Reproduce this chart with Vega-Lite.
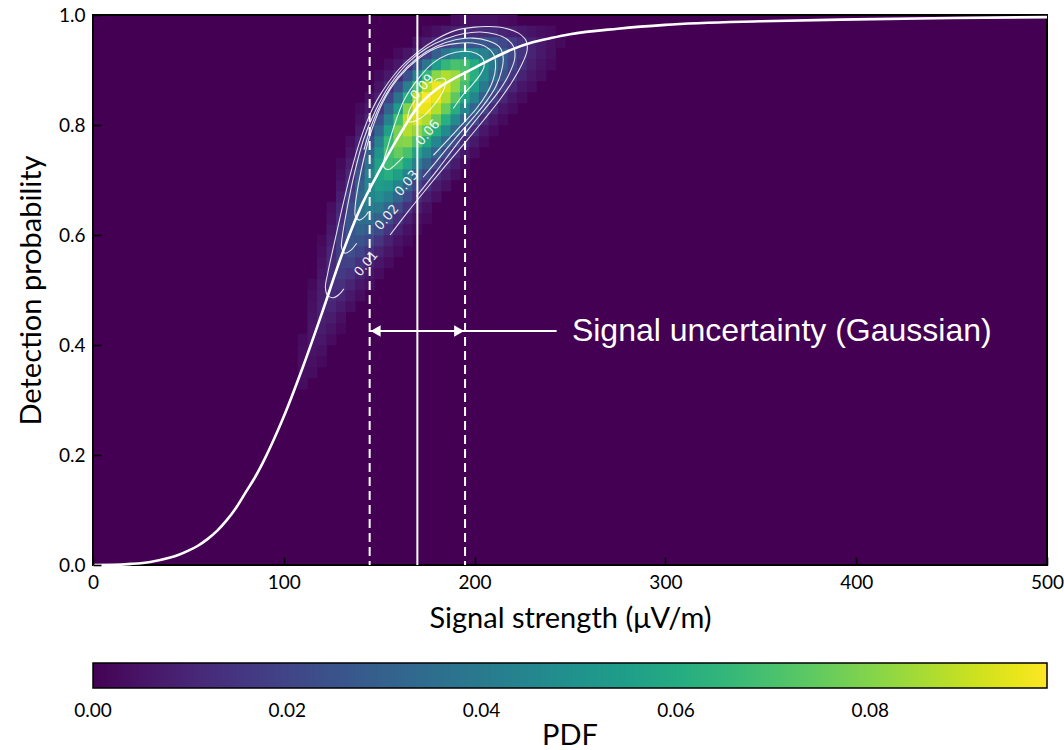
{
"$schema": "https://vega.github.io/schema/vega-lite/v6.json",
"width": 954, "height": 550,
"autosize": {"type": "none"},
"padding": {"left": 93, "top": 15, "right": 17, "bottom": 185},
"background": "white",
"config": {"view": {"stroke": "black", "strokeWidth": 2, "fill": "#440154"}, "font": "Lato"},
"datasets": {
"heat": [
{"x":110,"y":0.33,"p":0.00266},{"x":110,"y":0.35,"p":0.00312},{"x":110,"y":0.37,"p":0.00315},{"x":110,"y":0.39,"p":0.0029},{"x":110,"y":0.41,"p":0.00246},
{"x":115,"y":0.35,"p":0.00269},{"x":115,"y":0.37,"p":0.00389},{"x":115,"y":0.39,"p":0.00486},{"x":115,"y":0.41,"p":0.00523},{"x":115,"y":0.43,"p":0.00505},{"x":115,"y":0.45,"p":0.00454},{"x":115,"y":0.47,"p":0.0038},{"x":115,"y":0.49,"p":0.00296},{"x":115,"y":0.51,"p":0.00215},
{"x":120,"y":0.37,"p":0.00231},{"x":120,"y":0.39,"p":0.00387},{"x":120,"y":0.41,"p":0.00567},{"x":120,"y":0.43,"p":0.0073},{"x":120,"y":0.45,"p":0.0082},{"x":120,"y":0.47,"p":0.0082},{"x":120,"y":0.49,"p":0.00766},{"x":120,"y":0.51,"p":0.00672},{"x":120,"y":0.53,"p":0.00554},{"x":120,"y":0.55,"p":0.00428},{"x":120,"y":0.57,"p":0.00311},{"x":120,"y":0.59,"p":0.00213},
{"x":125,"y":0.41,"p":0.00286},{"x":125,"y":0.43,"p":0.00488},{"x":125,"y":0.45,"p":0.00741},{"x":125,"y":0.47,"p":0.00997},{"x":125,"y":0.49,"p":0.01192},{"x":125,"y":0.51,"p":0.01265},{"x":125,"y":0.53,"p":0.01228},{"x":125,"y":0.55,"p":0.01123},{"x":125,"y":0.57,"p":0.00968},{"x":125,"y":0.59,"p":0.00786},{"x":125,"y":0.61,"p":0.00601},{"x":125,"y":0.63,"p":0.00434},{"x":125,"y":0.65,"p":0.00295},
{"x":130,"y":0.43,"p":0.00206},{"x":130,"y":0.45,"p":0.00383},{"x":130,"y":0.47,"p":0.00647},{"x":130,"y":0.49,"p":0.00978},{"x":130,"y":0.51,"p":0.01337},{"x":130,"y":0.53,"p":0.01648},{"x":130,"y":0.55,"p":0.01828},{"x":130,"y":0.57,"p":0.01839},{"x":130,"y":0.59,"p":0.01732},{"x":130,"y":0.61,"p":0.01537},{"x":130,"y":0.63,"p":0.01285},{"x":130,"y":0.65,"p":0.01013},{"x":130,"y":0.67,"p":0.00754},{"x":130,"y":0.69,"p":0.00528},{"x":130,"y":0.71,"p":0.00348},{"x":130,"y":0.73,"p":0.00217},
{"x":135,"y":0.47,"p":0.00342},{"x":135,"y":0.49,"p":0.00598},{"x":135,"y":0.51,"p":0.00955},{"x":135,"y":0.53,"p":0.01396},{"x":135,"y":0.55,"p":0.01864},{"x":135,"y":0.57,"p":0.02279},{"x":135,"y":0.59,"p":0.02545},{"x":135,"y":0.61,"p":0.02605},{"x":135,"y":0.63,"p":0.02485},{"x":135,"y":0.65,"p":0.02229},{"x":135,"y":0.67,"p":0.01877},{"x":135,"y":0.69,"p":0.01485},{"x":135,"y":0.71,"p":0.01104},{"x":135,"y":0.73,"p":0.0077},{"x":135,"y":0.75,"p":0.00504},{"x":135,"y":0.77,"p":0.00311},
{"x":140,"y":0.49,"p":0.00297},{"x":140,"y":0.51,"p":0.00533},{"x":140,"y":0.53,"p":0.00886},{"x":140,"y":0.55,"p":0.01363},{"x":140,"y":0.57,"p":0.01931},{"x":140,"y":0.59,"p":0.02527},{"x":140,"y":0.61,"p":0.0306},{"x":140,"y":0.63,"p":0.03417},{"x":140,"y":0.65,"p":0.0353},{"x":140,"y":0.67,"p":0.03389},{"x":140,"y":0.69,"p":0.03043},{"x":140,"y":0.71,"p":0.02552},{"x":140,"y":0.73,"p":0.02002},{"x":140,"y":0.75,"p":0.01468},{"x":140,"y":0.77,"p":0.01006},{"x":140,"y":0.79,"p":0.00646},{"x":140,"y":0.81,"p":0.00385},{"x":140,"y":0.83,"p":0.00215},
{"x":145,"y":0.51,"p":0.00299},{"x":145,"y":0.53,"p":0.00543},{"x":145,"y":0.55,"p":0.00915},{"x":145,"y":0.57,"p":0.01435},{"x":145,"y":0.59,"p":0.02088},{"x":145,"y":0.61,"p":0.02829},{"x":145,"y":0.63,"p":0.0356},{"x":145,"y":0.65,"p":0.04163},{"x":145,"y":0.67,"p":0.04531},{"x":145,"y":0.69,"p":0.04577},{"x":145,"y":0.71,"p":0.04296},{"x":145,"y":0.73,"p":0.0374},{"x":145,"y":0.75,"p":0.03018},{"x":145,"y":0.77,"p":0.02263},{"x":145,"y":0.79,"p":0.01573},{"x":145,"y":0.81,"p":0.01012},{"x":145,"y":0.83,"p":0.00605},{"x":145,"y":0.85,"p":0.00336},
{"x":150,"y":0.53,"p":0.00288},{"x":150,"y":0.55,"p":0.00533},{"x":150,"y":0.57,"p":0.0091},{"x":150,"y":0.59,"p":0.01457},{"x":150,"y":0.61,"p":0.02177},{"x":150,"y":0.63,"p":0.03036},{"x":150,"y":0.65,"p":0.03951},{"x":150,"y":0.67,"p":0.04798},{"x":150,"y":0.69,"p":0.05432},{"x":150,"y":0.71,"p":0.05743},{"x":150,"y":0.73,"p":0.05645},{"x":150,"y":0.75,"p":0.05098},{"x":150,"y":0.77,"p":0.0424},{"x":150,"y":0.79,"p":0.03243},{"x":150,"y":0.81,"p":0.02281},{"x":150,"y":0.83,"p":0.01469},{"x":150,"y":0.85,"p":0.0087},{"x":150,"y":0.87,"p":0.00478},{"x":150,"y":0.89,"p":0.00242},
{"x":155,"y":0.55,"p":0.00277},{"x":155,"y":0.57,"p":0.00513},{"x":155,"y":0.59,"p":0.00887},{"x":155,"y":0.61,"p":0.01448},{"x":155,"y":0.63,"p":0.02204},{"x":155,"y":0.65,"p":0.03146},{"x":155,"y":0.67,"p":0.04203},{"x":155,"y":0.69,"p":0.05253},{"x":155,"y":0.71,"p":0.06154},{"x":155,"y":0.73,"p":0.0675},{"x":155,"y":0.75,"p":0.0693},{"x":155,"y":0.77,"p":0.06535},{"x":155,"y":0.79,"p":0.05586},{"x":155,"y":0.81,"p":0.04331},{"x":155,"y":0.83,"p":0.03049},{"x":155,"y":0.85,"p":0.01947},{"x":155,"y":0.87,"p":0.0113},{"x":155,"y":0.89,"p":0.00589},{"x":155,"y":0.91,"p":0.00281},
{"x":160,"y":0.57,"p":0.00248},{"x":160,"y":0.59,"p":0.00473},{"x":160,"y":0.61,"p":0.00833},{"x":160,"y":0.63,"p":0.01386},{"x":160,"y":0.65,"p":0.02155},{"x":160,"y":0.67,"p":0.03148},{"x":160,"y":0.69,"p":0.04309},{"x":160,"y":0.71,"p":0.05527},{"x":160,"y":0.73,"p":0.06656},{"x":160,"y":0.75,"p":0.07521},{"x":160,"y":0.77,"p":0.0797},{"x":160,"y":0.79,"p":0.07842},{"x":160,"y":0.81,"p":0.06881},{"x":160,"y":0.83,"p":0.05359},{"x":160,"y":0.85,"p":0.03709},{"x":160,"y":0.87,"p":0.02275},{"x":160,"y":0.89,"p":0.01242},{"x":160,"y":0.91,"p":0.00601},{"x":160,"y":0.93,"p":0.00256},
{"x":165,"y":0.59,"p":0.00232},{"x":165,"y":0.61,"p":0.00443},{"x":165,"y":0.63,"p":0.00793},{"x":165,"y":0.65,"p":0.01328},{"x":165,"y":0.67,"p":0.02103},{"x":165,"y":0.69,"p":0.0311},{"x":165,"y":0.71,"p":0.04339},{"x":165,"y":0.73,"p":0.05676},{"x":165,"y":0.75,"p":0.06977},{"x":165,"y":0.77,"p":0.08055},{"x":165,"y":0.79,"p":0.08732},{"x":165,"y":0.81,"p":0.08883},{"x":165,"y":0.83,"p":0.0801},{"x":165,"y":0.85,"p":0.06228},{"x":165,"y":0.87,"p":0.04179},{"x":165,"y":0.89,"p":0.02415},{"x":165,"y":0.91,"p":0.01203},{"x":165,"y":0.93,"p":0.00517},
{"x":170,"y":0.61,"p":0.00202},{"x":170,"y":0.63,"p":0.00393},{"x":170,"y":0.65,"p":0.00718},{"x":170,"y":0.67,"p":0.01227},{"x":170,"y":0.69,"p":0.01973},{"x":170,"y":0.71,"p":0.02978},{"x":170,"y":0.73,"p":0.04227},{"x":170,"y":0.75,"p":0.05637},{"x":170,"y":0.77,"p":0.07062},{"x":170,"y":0.79,"p":0.083},{"x":170,"y":0.81,"p":0.09177},{"x":170,"y":0.83,"p":0.0953},{"x":170,"y":0.85,"p":0.08853},{"x":170,"y":0.87,"p":0.06871},{"x":170,"y":0.89,"p":0.0445},{"x":170,"y":0.91,"p":0.02402},{"x":170,"y":0.93,"p":0.01084},{"x":170,"y":0.95,"p":0.00408},
{"x":175,"y":0.63,"p":0.00201},{"x":175,"y":0.65,"p":0.00397},{"x":175,"y":0.67,"p":0.0073},{"x":175,"y":0.69,"p":0.0126},{"x":175,"y":0.71,"p":0.02036},{"x":175,"y":0.73,"p":0.03084},{"x":175,"y":0.75,"p":0.04396},{"x":175,"y":0.77,"p":0.05864},{"x":175,"y":0.79,"p":0.07343},{"x":175,"y":0.81,"p":0.08615},{"x":175,"y":0.83,"p":0.09482},{"x":175,"y":0.85,"p":0.0979},{"x":175,"y":0.87,"p":0.0883},{"x":175,"y":0.89,"p":0.06481},{"x":175,"y":0.91,"p":0.03857},{"x":175,"y":0.93,"p":0.0187},{"x":175,"y":0.95,"p":0.00739},{"x":175,"y":0.97,"p":0.00238},
{"x":180,"y":0.67,"p":0.00392},{"x":180,"y":0.69,"p":0.00731},{"x":180,"y":0.71,"p":0.01276},{"x":180,"y":0.73,"p":0.02081},{"x":180,"y":0.75,"p":0.03175},{"x":180,"y":0.77,"p":0.04521},{"x":180,"y":0.79,"p":0.06021},{"x":180,"y":0.81,"p":0.07502},{"x":180,"y":0.83,"p":0.08731},{"x":180,"y":0.85,"p":0.09496},{"x":180,"y":0.87,"p":0.09612},{"x":180,"y":0.89,"p":0.08112},{"x":180,"y":0.91,"p":0.0545},{"x":180,"y":0.93,"p":0.02923},{"x":180,"y":0.95,"p":0.01249},{"x":180,"y":0.97,"p":0.00426},
{"x":185,"y":0.69,"p":0.0039},{"x":185,"y":0.71,"p":0.00742},{"x":185,"y":0.73,"p":0.01312},{"x":185,"y":0.75,"p":0.02157},{"x":185,"y":0.77,"p":0.03299},{"x":185,"y":0.79,"p":0.04678},{"x":185,"y":0.81,"p":0.06176},{"x":185,"y":0.83,"p":0.07573},{"x":185,"y":0.85,"p":0.08639},{"x":185,"y":0.87,"p":0.09162},{"x":185,"y":0.89,"p":0.08675},{"x":185,"y":0.91,"p":0.06516},{"x":185,"y":0.93,"p":0.0386},{"x":185,"y":0.95,"p":0.01801},{"x":185,"y":0.97,"p":0.00662},
{"x":190,"y":0.71,"p":0.00356},{"x":190,"y":0.73,"p":0.007},{"x":190,"y":0.75,"p":0.01271},{"x":190,"y":0.77,"p":0.0213},{"x":190,"y":0.79,"p":0.03284},{"x":190,"y":0.81,"p":0.04662},{"x":190,"y":0.83,"p":0.06098},{"x":190,"y":0.85,"p":0.07358},{"x":190,"y":0.87,"p":0.08182},{"x":190,"y":0.89,"p":0.08358},{"x":190,"y":0.91,"p":0.07014},{"x":190,"y":0.93,"p":0.04586},{"x":190,"y":0.95,"p":0.02335},{"x":190,"y":0.97,"p":0.00924},{"x":190,"y":0.99,"p":0.00286},
{"x":195,"y":0.73,"p":0.00295},{"x":195,"y":0.75,"p":0.00614},{"x":195,"y":0.77,"p":0.01159},{"x":195,"y":0.79,"p":0.02},{"x":195,"y":0.81,"p":0.03137},{"x":195,"y":0.83,"p":0.04476},{"x":195,"y":0.85,"p":0.05808},{"x":195,"y":0.87,"p":0.06856},{"x":195,"y":0.89,"p":0.07358},{"x":195,"y":0.91,"p":0.06856},{"x":195,"y":0.93,"p":0.04937},{"x":195,"y":0.95,"p":0.02731},{"x":195,"y":0.97,"p":0.01159},{"x":195,"y":0.99,"p":0.00379},
{"x":200,"y":0.75,"p":0.00274},{"x":200,"y":0.77,"p":0.00595},{"x":200,"y":0.79,"p":0.01159},{"x":200,"y":0.81,"p":0.02025},{"x":200,"y":0.83,"p":0.03152},{"x":200,"y":0.85,"p":0.04405},{"x":200,"y":0.87,"p":0.05498},{"x":200,"y":0.89,"p":0.06143},{"x":200,"y":0.91,"p":0.06018},{"x":200,"y":0.93,"p":0.0456},{"x":200,"y":0.95,"p":0.02623},{"x":200,"y":0.97,"p":0.0114},{"x":200,"y":0.99,"p":0.00377},
{"x":205,"y":0.77,"p":0.00258},{"x":205,"y":0.79,"p":0.00571},{"x":205,"y":0.81,"p":0.01116},{"x":205,"y":0.83,"p":0.01929},{"x":205,"y":0.85,"p":0.02954},{"x":205,"y":0.87,"p":0.03995},{"x":205,"y":0.89,"p":0.04777},{"x":205,"y":0.91,"p":0.0505},{"x":205,"y":0.93,"p":0.04262},{"x":205,"y":0.95,"p":0.02641},{"x":205,"y":0.97,"p":0.01202},{"x":205,"y":0.99,"p":0.00402},
{"x":210,"y":0.79,"p":0.00262},{"x":210,"y":0.81,"p":0.00573},{"x":210,"y":0.83,"p":0.01095},{"x":210,"y":0.85,"p":0.01836},{"x":210,"y":0.87,"p":0.02691},{"x":210,"y":0.89,"p":0.03463},{"x":210,"y":0.91,"p":0.039},{"x":210,"y":0.93,"p":0.03704},{"x":210,"y":0.95,"p":0.0253},{"x":210,"y":0.97,"p":0.01225},{"x":210,"y":0.99,"p":0.00418},
{"x":215,"y":0.81,"p":0.00256},{"x":215,"y":0.83,"p":0.00556},{"x":215,"y":0.85,"p":0.01048},{"x":215,"y":0.87,"p":0.01693},{"x":215,"y":0.89,"p":0.02359},{"x":215,"y":0.91,"p":0.02839},{"x":215,"y":0.93,"p":0.02919},{"x":215,"y":0.95,"p":0.02093},{"x":215,"y":0.97,"p":0.00962},{"x":215,"y":0.99,"p":0.00283},
{"x":220,"y":0.83,"p":0.00266},{"x":220,"y":0.85,"p":0.00554},{"x":220,"y":0.87,"p":0.00986},{"x":220,"y":0.89,"p":0.01497},{"x":220,"y":0.91,"p":0.01934},{"x":220,"y":0.93,"p":0.02128},{"x":220,"y":0.95,"p":0.01704},{"x":220,"y":0.97,"p":0.00792},{"x":220,"y":0.99,"p":0.00212},
{"x":225,"y":0.85,"p":0.00286},{"x":225,"y":0.87,"p":0.00558},{"x":225,"y":0.89,"p":0.00916},{"x":225,"y":0.91,"p":0.01264},{"x":225,"y":0.93,"p":0.01464},{"x":225,"y":0.95,"p":0.01294},{"x":225,"y":0.97,"p":0.00619},
{"x":230,"y":0.87,"p":0.0029},{"x":230,"y":0.89,"p":0.00521},{"x":230,"y":0.91,"p":0.00775},{"x":230,"y":0.93,"p":0.00954},{"x":230,"y":0.95,"p":0.00929},{"x":230,"y":0.97,"p":0.00471},
{"x":235,"y":0.89,"p":0.00291},{"x":235,"y":0.91,"p":0.00459},{"x":235,"y":0.93,"p":0.00593},{"x":235,"y":0.95,"p":0.00622},{"x":235,"y":0.97,"p":0.00348},
{"x":240,"y":0.91,"p":0.00257},{"x":240,"y":0.93,"p":0.00351},{"x":240,"y":0.95,"p":0.00389},{"x":240,"y":0.97,"p":0.00247},
{"x":245,"y":0.95,"p":0.0023}
],
"contours": [
{"c":"a","i":0,"x":155.7,"y":0.6},{"c":"a","i":1,"x":165,"y":0.642},{"c":"a","i":2,"x":175,"y":0.685},{"c":"a","i":3,"x":185,"y":0.727},{"c":"a","i":4,"x":195,"y":0.768},{"c":"a","i":5,"x":205,"y":0.81},{"c":"a","i":6,"x":213,"y":0.845},{"c":"a","i":7,"x":219,"y":0.875},{"c":"a","i":8,"x":224,"y":0.905},{"c":"a","i":9,"x":227.5,"y":0.935},{"c":"a","i":10,"x":227,"y":0.953},{"c":"a","i":11,"x":223,"y":0.967},{"c":"a","i":12,"x":216,"y":0.976},{"c":"a","i":13,"x":208,"y":0.979},{"c":"a","i":14,"x":200,"y":0.978},{"c":"a","i":15,"x":190,"y":0.972},{"c":"a","i":16,"x":180,"y":0.956},{"c":"a","i":17,"x":170,"y":0.932},{"c":"a","i":18,"x":160,"y":0.9},{"c":"a","i":19,"x":150,"y":0.852},{"c":"a","i":20,"x":145,"y":0.818},{"c":"a","i":21,"x":140,"y":0.772},{"c":"a","i":22,"x":135,"y":0.712},{"c":"a","i":23,"x":130,"y":0.64},{"c":"a","i":24,"x":126,"y":0.578},{"c":"a","i":25,"x":123,"y":0.53},{"c":"a","i":26,"x":121.8,"y":0.505},{"c":"a","i":27,"x":123,"y":0.49},{"c":"a","i":28,"x":126,"y":0.486},{"c":"a","i":29,"x":129,"y":0.492},{"c":"a","i":30,"x":131.5,"y":0.502},
{"c":"b","i":0,"x":169.5,"y":0.67},{"c":"b","i":1,"x":180,"y":0.716},{"c":"b","i":2,"x":190,"y":0.762},{"c":"b","i":3,"x":200,"y":0.806},{"c":"b","i":4,"x":207,"y":0.836},{"c":"b","i":5,"x":213,"y":0.863},{"c":"b","i":6,"x":218,"y":0.892},{"c":"b","i":7,"x":221,"y":0.92},{"c":"b","i":8,"x":220.5,"y":0.942},{"c":"b","i":9,"x":217,"y":0.956},{"c":"b","i":10,"x":211,"y":0.965},{"c":"b","i":11,"x":203,"y":0.969},{"c":"b","i":12,"x":194,"y":0.966},{"c":"b","i":13,"x":185,"y":0.957},{"c":"b","i":14,"x":175,"y":0.94},{"c":"b","i":15,"x":165,"y":0.913},{"c":"b","i":16,"x":155,"y":0.87},{"c":"b","i":17,"x":148,"y":0.826},{"c":"b","i":18,"x":142,"y":0.776},{"c":"b","i":19,"x":137,"y":0.712},{"c":"b","i":20,"x":133,"y":0.645},{"c":"b","i":21,"x":130.7,"y":0.598},{"c":"b","i":22,"x":130.3,"y":0.577},{"c":"b","i":23,"x":132,"y":0.567},{"c":"b","i":24,"x":135,"y":0.572},{"c":"b","i":25,"x":138.2,"y":0.585},
{"c":"c","i":0,"x":173,"y":0.705},{"c":"c","i":1,"x":180,"y":0.734},{"c":"c","i":2,"x":190,"y":0.776},{"c":"c","i":3,"x":200,"y":0.816},{"c":"c","i":4,"x":206,"y":0.842},{"c":"c","i":5,"x":211,"y":0.869},{"c":"c","i":6,"x":214,"y":0.897},{"c":"c","i":7,"x":215,"y":0.922},{"c":"c","i":8,"x":213,"y":0.942},{"c":"c","i":9,"x":207,"y":0.953},{"c":"c","i":10,"x":199,"y":0.958},{"c":"c","i":11,"x":190,"y":0.955},{"c":"c","i":12,"x":180,"y":0.943},{"c":"c","i":13,"x":170,"y":0.922},{"c":"c","i":14,"x":160,"y":0.888},{"c":"c","i":15,"x":152,"y":0.846},{"c":"c","i":16,"x":146,"y":0.8},{"c":"c","i":17,"x":142,"y":0.755},
{"c":"d","i":0,"x":178.4,"y":0.745},{"c":"d","i":1,"x":190,"y":0.788},{"c":"d","i":2,"x":201,"y":0.83},{"c":"d","i":3,"x":206,"y":0.855},{"c":"d","i":4,"x":209.5,"y":0.88},{"c":"d","i":5,"x":211,"y":0.905},{"c":"d","i":6,"x":210,"y":0.928},{"c":"d","i":7,"x":206,"y":0.942},{"c":"d","i":8,"x":199,"y":0.949},{"c":"d","i":9,"x":190,"y":0.948},{"c":"d","i":10,"x":180,"y":0.94},{"c":"d","i":11,"x":170,"y":0.919},{"c":"d","i":12,"x":160,"y":0.885},{"c":"d","i":13,"x":152,"y":0.842},{"c":"d","i":14,"x":146,"y":0.79},{"c":"d","i":15,"x":142,"y":0.74},{"c":"d","i":16,"x":139,"y":0.69},{"c":"d","i":17,"x":137.5,"y":0.655},{"c":"d","i":18,"x":137.5,"y":0.634},{"c":"d","i":19,"x":139.5,"y":0.627},{"c":"d","i":20,"x":142,"y":0.632},{"c":"d","i":21,"x":144.3,"y":0.642},
{"c":"e","i":0,"x":188.8,"y":0.83},{"c":"e","i":1,"x":194,"y":0.855},{"c":"e","i":2,"x":199,"y":0.874},{"c":"e","i":3,"x":203,"y":0.892},{"c":"e","i":4,"x":205,"y":0.907},{"c":"e","i":5,"x":204.5,"y":0.92},{"c":"e","i":6,"x":201,"y":0.93},{"c":"e","i":7,"x":194,"y":0.934},{"c":"e","i":8,"x":186,"y":0.928},{"c":"e","i":9,"x":178,"y":0.912},{"c":"e","i":10,"x":170,"y":0.882},{"c":"e","i":11,"x":163,"y":0.845},{"c":"e","i":12,"x":158,"y":0.8},{"c":"e","i":13,"x":154.5,"y":0.76},{"c":"e","i":14,"x":152.5,"y":0.735},{"c":"e","i":15,"x":152.5,"y":0.723},{"c":"e","i":16,"x":155,"y":0.719},{"c":"e","i":17,"x":158.5,"y":0.728},{"c":"e","i":18,"x":162.6,"y":0.742},
{"c":"f","i":0,"x":178.9,"y":0.88},{"c":"f","i":1,"x":181.1,"y":0.8845},{"c":"f","i":2,"x":184.2,"y":0.8845},{"c":"f","i":3,"x":184.9,"y":0.8785},{"c":"f","i":4,"x":184,"y":0.8656},{"c":"f","i":5,"x":178.4,"y":0.835},{"c":"f","i":6,"x":170.7,"y":0.8104},{"c":"f","i":7,"x":165.4,"y":0.8065},{"c":"f","i":8,"x":165.6,"y":0.825},{"c":"f","i":9,"x":168.9,"y":0.8455}
],
"clabels": [
{"t":"0.01","x":143.2,"y":0.548},{"t":"0.02","x":154,"y":0.632},{"t":"0.03","x":164.4,"y":0.694},{"t":"0.06","x":175.5,"y":0.786},{"t":"0.09","x":172.6,"y":0.869}
],
"curve": [
{"x":0,"y":0},{"x":10,"y":0.0003},{"x":20,"y":0.002},{"x":30,"y":0.0055},{"x":40,"y":0.013},{"x":45,"y":0.0185},{"x":50,"y":0.026},{"x":55,"y":0.035},{"x":60,"y":0.047},{"x":65,"y":0.062},{"x":70,"y":0.081},{"x":75,"y":0.104},{"x":80,"y":0.132},{"x":85,"y":0.16},{"x":90,"y":0.193},{"x":95,"y":0.23},{"x":100,"y":0.27},{"x":110,"y":0.36},{"x":120,"y":0.458},{"x":130,"y":0.56},{"x":140,"y":0.648},{"x":150,"y":0.716},{"x":160,"y":0.778},{"x":170,"y":0.832},{"x":180,"y":0.865},{"x":190,"y":0.886},{"x":200,"y":0.904},{"x":210,"y":0.922},{"x":220,"y":0.938},{"x":230,"y":0.95},{"x":240,"y":0.958},{"x":250,"y":0.965},{"x":275,"y":0.975},{"x":300,"y":0.982},{"x":350,"y":0.9885},{"x":400,"y":0.992},{"x":450,"y":0.9945},{"x":500,"y":0.9962}
]
},
"layer": [
{
"data": {"name": "heat"},
"mark": {"type": "rect", "width": 10, "height": 11.6},
"encoding": {
"x": {"field": "x", "type": "quantitative", "scale": {"domain": [0, 500], "nice": false, "zero": false},
"axis": {"title": "Signal strength (μV/m)", "values": [0, 100, 200, 300, 400, 500], "format": "d", "labelFlush": false, "grid": false, "domain": false, "ticks": true, "tickSize": -8, "tickWidth": 1.6, "tickColor": "black", "labelPadding": 16, "labelFont": "Lato", "labelFontSize": 19, "labelColor": "black", "titleFont": "Lato", "titleFontSize": 29, "titleFontWeight": "normal", "titleColor": "black", "titlePadding": 12, "zindex": 1}},
"y": {"field": "y", "type": "quantitative", "scale": {"domain": [0, 1], "nice": false, "zero": false},
"axis": {"title": "Detection probability", "values": [0, 0.2, 0.4, 0.6, 0.8, 1], "format": ".1f", "labelFlush": false, "grid": false, "domain": false, "ticks": true, "tickSize": -8, "tickWidth": 1.6, "tickColor": "black", "labelPadding": 16, "labelFont": "Lato", "labelFontSize": 19, "labelColor": "black", "titleFont": "Lato", "titleFontSize": 29, "titleFontWeight": "normal", "titleColor": "black", "titlePadding": 12, "zindex": 1}},
"color": {"field": "p", "type": "quantitative", "scale": {"scheme": "viridis", "domain": [0, 0.0982]},
"legend": {"orient": "none", "legendX": 0, "legendY": 648, "direction": "horizontal", "gradientLength": 954, "gradientThickness": 25, "title": null, "labelFont": "Lato", "labelFontSize": 19, "labelColor": "black", "labelAlign": "center", "labelOffset": 14, "values": [0, 0.02, 0.04, 0.06, 0.08], "format": ".2f", "gradientStrokeColor": "black", "gradientStrokeWidth": 1.5, "padding": 0,
"encode": {"labels": {"update": {"align": {"value": "center"}}}}}}
}
},
{
"data": {"name": "contours"},
"mark": {"type": "line", "interpolate": "catmull-rom", "color": "white", "strokeWidth": 1.1, "opacity": 0.85},
"encoding": {"x": {"field": "x", "type": "quantitative"}, "y": {"field": "y", "type": "quantitative"}, "detail": {"field": "c"}, "order": {"field": "i", "type": "quantitative"}}
},
{
"data": {"name": "clabels"},
"mark": {"type": "text", "color": "white", "font": "DejaVu Sans", "fontSize": 13, "angle": 310, "opacity": 0.9},
"encoding": {"x": {"field": "x", "type": "quantitative"}, "y": {"field": "y", "type": "quantitative"}, "text": {"field": "t"}}
},
{
"data": {"name": "curve"},
"mark": {"type": "line", "interpolate": "monotone", "color": "white", "strokeWidth": 2.6},
"encoding": {"x": {"field": "x", "type": "quantitative"}, "y": {"field": "y", "type": "quantitative"}}
},
{
"data": {"values": [{"x": 170}]},
"mark": {"type": "rule", "color": "white", "strokeWidth": 2},
"encoding": {"x": {"field": "x", "type": "quantitative"}}
},
{
"data": {"values": [{"x": 145}, {"x": 195}]},
"mark": {"type": "rule", "color": "white", "strokeWidth": 2, "strokeDash": [9, 5]},
"encoding": {"x": {"field": "x", "type": "quantitative"}}
},
{
"data": {"values": [{"x": 145, "x2": 243, "y": 0.4255}]},
"mark": {"type": "rule", "color": "white", "strokeWidth": 2},
"encoding": {"x": {"field": "x", "type": "quantitative"}, "x2": {"field": "x2"}, "y": {"field": "y", "type": "quantitative"}}
},
{
"data": {"values": [{"x": 145, "y": 0.4255}]},
"mark": {"type": "point", "shape": "triangle-left", "filled": true, "color": "white", "opacity": 1, "size": 130, "xOffset": 6},
"encoding": {"x": {"field": "x", "type": "quantitative"}, "y": {"field": "y", "type": "quantitative"}}
},
{
"data": {"values": [{"x": 195, "y": 0.4255}]},
"mark": {"type": "point", "shape": "triangle-right", "filled": true, "color": "white", "opacity": 1, "size": 130, "xOffset": -6},
"encoding": {"x": {"field": "x", "type": "quantitative"}, "y": {"field": "y", "type": "quantitative"}}
},
{
"data": {"values": [{"x": 251, "y": 0.4255, "t": "Signal uncertainty (Gaussian)"}]},
"mark": {"type": "text", "color": "white", "font": "Liberation Sans", "fontSize": 32, "align": "left", "baseline": "middle"},
"encoding": {"x": {"field": "x", "type": "quantitative"}, "y": {"field": "y", "type": "quantitative"}, "text": {"field": "t"}}
},
{
"data": {"values": [{"x": 250, "y": -0.311, "t": "PDF"}]},
"mark": {"type": "text", "color": "black", "font": "Lato", "fontSize": 29, "align": "center", "baseline": "middle", "clip": false},
"encoding": {"x": {"field": "x", "type": "quantitative", "scale": {"domain": [0, 500], "nice": false, "zero": false}}, "y": {"field": "y", "type": "quantitative", "scale": {"domain": [0, 1], "nice": false, "zero": false}}, "text": {"field": "t"}}
}
]
}
